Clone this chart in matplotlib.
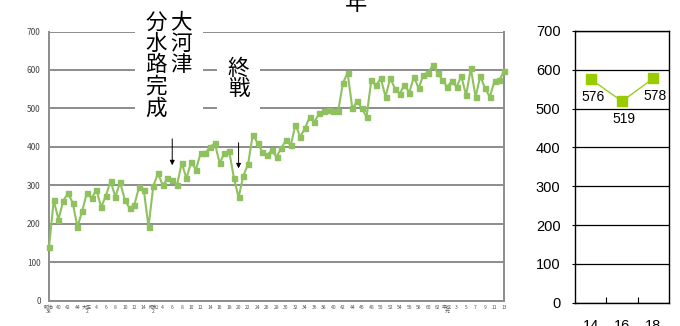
import numpy as np
import matplotlib
matplotlib.use("Agg")
from matplotlib import pyplot as plt
from matplotlib.patches import Rectangle

plt.rcParams['font.family'] = ['Noto Sans CJK JP', 'DejaVu Sans']

# yearly yield, 1905 (M38) .. 2001 (H13)
years = np.arange(1905, 2002)
yield_kg = [139, 261, 211, 260, 279, 255, 192, 233, 281, 266,
            289, 243, 273, 311, 270, 308, 262, 240, 249, 295,
            288, 192, 298, 331, 300, 318, 315, 300, 358, 318,
            361, 341, 384, 384, 400, 409, 358, 383, 390, 320,
            269, 325, 355, 432, 410, 387, 378, 391, 374, 397,
            417, 404, 458, 426, 448, 478, 465, 487, 493, 497,
            493, 492, 565, 593, 500, 518, 500, 478, 573, 560,
            579, 530, 579, 551, 538, 562, 541, 582, 552, 588,
            593, 612, 593, 573, 556, 571, 556, 584, 534, 604,
            530, 584, 552, 530, 571, 573, 597]

tick_years = list(range(1905, 2002, 2))
tick_labels = (["明治\n38", "40", "42", "44", "大正\n2", "4", "6", "8", "10", "12", "14", "昭和\n2"]
               + [str(n) for n in range(4, 63, 2)]
               + ["平成\n元", "3", "5", "7", "9", "11", "13"])

recent_cats = ["14", "16", "18"]
recent_vals = [576, 519, 578]

W, H = 680, 326
fig = plt.figure(figsize=(W / 100, H / 100), dpi=100)

def px(x0, y0, x1, y1):
    return [x0 / W, 1 - y1 / H, (x1 - x0) / W, (y1 - y0) / H]

# long-term chart
ax1 = fig.add_axes(px(49, 31.5, 504, 300.7))
ax1.set_xlim(1905, 2001)
ax1.set_ylim(0, 700)
ax1.set_axisbelow(True)
ax1.yaxis.grid(True, color="#8c8c8c", lw=1.4)
for s in ["left", "bottom", "right"]:
    ax1.spines[s].set_color("#8c8c8c")
    ax1.spines[s].set_linewidth(1.4)
ax1.spines["top"].set_visible(False)
ax1.set_yticks(range(0, 701, 100))
ax1.tick_params(axis="y", length=0, pad=6, labelsize=6, labelcolor="#444444")
ax1.set_xticks(tick_years)
ax1.set_xticklabels(tick_labels, fontsize=3.6, color="#555555", linespacing=0.85, va="top")
ax1.tick_params(axis="x", length=0, pad=3)
ax1.plot(years, yield_kg, color="#8fc25e", lw=1.5, marker="s", ms=3.6,
         mec="#8fc25e", mfc="#8fc25e", zorder=3, clip_on=False)

# label boxes over the grid
ax1.add_patch(Rectangle((1923.1, 430), 14.4, 338, facecolor="white", edgecolor="none",
                        zorder=2, clip_on=False))
ax1.add_patch(Rectangle((1940.4, 430), 9.1, 240, facecolor="white", edgecolor="none",
                        zorder=2, clip_on=False))
ax1.text(1932.8, 752, "\n".join("大河津"), fontsize=15.5, linespacing=0.97,
         ha="center", va="top", zorder=4, clip_on=False)
ax1.text(1927.6, 752, "\n".join("分水路完成"), fontsize=15.5, linespacing=0.97,
         ha="center", va="top", zorder=4, clip_on=False)
ax1.text(1945.0, 632, "\n".join("終戦"), fontsize=15.5, linespacing=0.97,
         ha="center", va="top", zorder=4)

arrow = dict(arrowstyle="-|>", color="black", lw=0.7, mutation_scale=7)
ax1.annotate("", xy=(1931, 345), xytext=(1931, 428), arrowprops=arrow, zorder=4)
ax1.annotate("", xy=(1945, 337), xytext=(1945, 418), arrowprops=arrow, zorder=4)

fig.text(356 / W, 1 - 10 / H, "年", fontsize=16, ha="center", va="baseline")

# recent years chart
ax2 = fig.add_axes(px(575, 31, 669, 302.7))
x2 = np.arange(len(recent_cats))
ax2.set_xlim(-0.5, len(recent_cats) - 0.5)
ax2.set_ylim(0, 700)
ax2.set_axisbelow(True)
ax2.yaxis.grid(True, color="black", lw=0.9)
for s in ax2.spines.values():
    s.set_color("black")
    s.set_linewidth(1.0)
ax2.set_yticks(range(0, 701, 100))
ax2.tick_params(axis="y", direction="inout", length=5, width=0.8, pad=8,
                labelsize=10.5, labelfontfamily="Liberation Sans")
ax2.set_xticks([0.5, 1.5])
ax2.set_xticklabels([])
ax2.tick_params(axis="x", which="major", direction="in", length=4, width=0.8)
ax2.set_xticks(x2, minor=True)
ax2.set_xticklabels(recent_cats, minor=True, fontsize=10.5, family="Liberation Sans")
ax2.tick_params(axis="x", which="minor", length=0, pad=12)
ax2.plot(x2, recent_vals, color="#9acd1e", lw=1.0, marker="s", ms=6.5,
         mfc="#99cc00", mec="#99cc00", zorder=3)
for xi, v in zip(x2, recent_vals):
    ax2.annotate(str(v), (xi, v), xytext=(1.5, -13), textcoords="offset points",
                 ha="center", va="center", fontsize=10, family="Liberation Sans")

fig.savefig("out.png", dpi=100)
